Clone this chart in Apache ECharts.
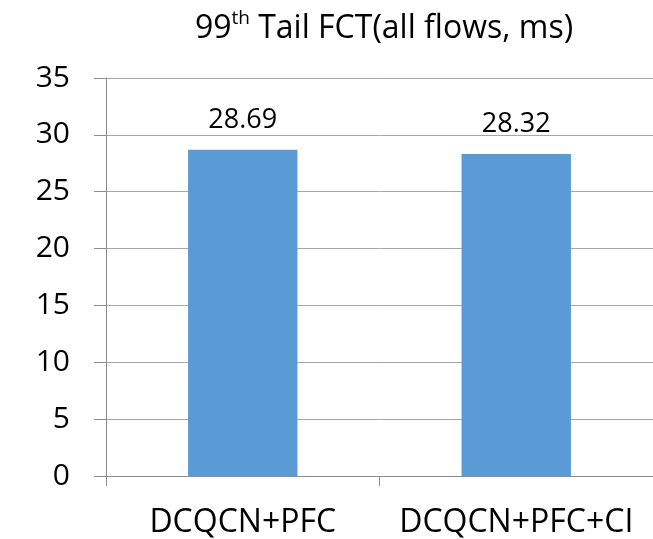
<!DOCTYPE html>
<html>
<head>
<meta charset="utf-8">
<script src="https://cdn.jsdelivr.net/npm/echarts@6/dist/echarts.min.js"></script>
<style>
html,body{margin:0;padding:0;background:#fff;}
#chart{width:653px;height:539px;}
</style>
</head>
<body>
<div id="chart"></div>
<script>
const categories = ['DCQCN+PFC', 'DCQCN+PFC+CI'];
const values = [28.69, 28.32];
const yTicks = { min: 0, max: 35, interval: 5 };
const titleMain = '99';
const titleSup = 'th';
const titleRest = ' Tail FCT(all flows, ms)';

const FONT = '"Open Sans", sans-serif';
const chart = echarts.init(document.getElementById('chart'), null, { renderer: 'canvas' });
chart.setOption({
  animation: false,
  backgroundColor: '#ffffff',
  title: {
    text: '{a|' + titleMain + '}{s|' + titleSup + '}{a|' + titleRest + '}',
    left: 379,
    textAlign: 'center',
    top: 4,
    textStyle: {
      fontWeight: 'normal',
      rich: {
        a: { fontFamily: FONT, fontSize: 32, fontWeight: 'normal', color: '#000', lineHeight: 40 },
        s: { fontFamily: FONT, fontSize: 19, fontWeight: 'normal', color: '#000', lineHeight: 40, verticalAlign: 'top', padding: [0, 0, 13, 0] }
      }
    }
  },
  grid: { left: 106, right: 0, top: 78, bottom: 62, containLabel: false },
  xAxis: {
    type: 'category',
    data: categories,
    axisLine: { show: true, lineStyle: { color: '#8c8c8c', width: 1 } },
    axisTick: { show: true, length: 10, alignWithLabel: false, lineStyle: { color: '#8c8c8c' } },
    axisLabel: { fontFamily: FONT, fontSize: 32, color: '#000', margin: 31, interval: 0 },
    splitLine: { show: false }
  },
  yAxis: {
    type: 'value',
    min: yTicks.min,
    max: yTicks.max,
    interval: yTicks.interval,
    axisLine: { show: true, lineStyle: { color: '#8c8c8c', width: 1 } },
    axisTick: { show: true, length: 12, lineStyle: { color: '#8c8c8c' } },
    axisLabel: { fontFamily: FONT, fontSize: 30, color: '#000', margin: 36 },
    splitLine: { show: true, lineStyle: { color: '#a6a6a6', width: 1 } }
  },
  series: [{
    type: 'bar',
    data: values,
    barWidth: '40%',
    itemStyle: { color: '#5b9bd5' },
    label: {
      show: true,
      position: 'top',
      distance: 16,
      fontFamily: FONT,
      fontSize: 27,
      color: '#000'
    }
  }]
});
</script>
</body>
</html>
